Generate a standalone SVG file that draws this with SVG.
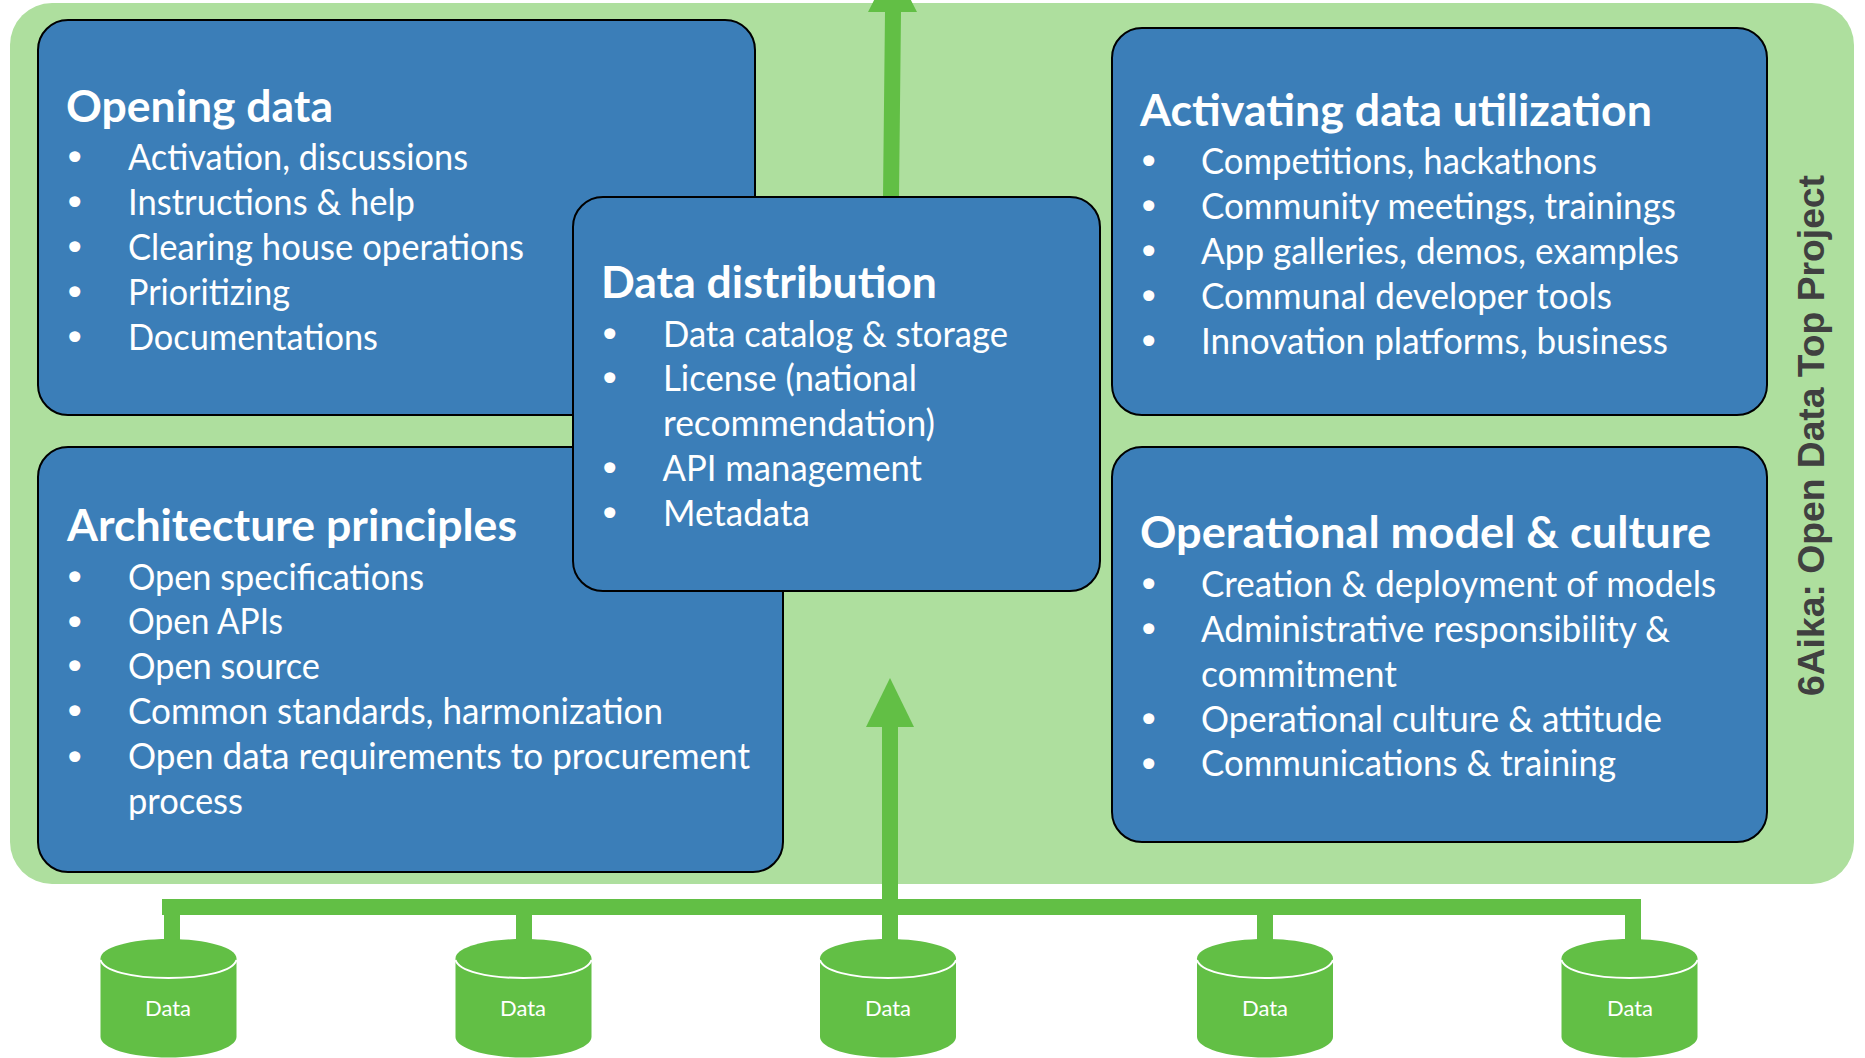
<svg xmlns="http://www.w3.org/2000/svg" width="1865" height="1058" viewBox="0 0 1865 1058">
<style>
text{font-family:"Lato","Carlito","Open Sans",sans-serif;fill:#fff}
.box{fill:#3b7eb8;stroke:#000;stroke-width:2}
.h{font-size:44px;font-weight:700}
.i{font-size:36px}
.b{font-family:"DejaVu Sans",sans-serif;font-size:38px}
.g{fill:#62bf45}
.d{font-size:22px;text-anchor:middle}
.arc{fill:none;stroke:#fff;stroke-width:2}
.side{font-family:"Liberation Sans",Arial,sans-serif;font-weight:700;font-size:36px;fill:#404040}
</style>
<defs>
<g id="cyl"><path class="g" d="M0 19.500V98C0 109 30 118.500 68 118.500S136 109 136 98V19.500C136 8.500 106 0 68 0S0 8.500 0 19.500Z"/><path class="arc" d="M0 21C3 32 32 39 68 39S133 32 136 21"/></g>
</defs>
<rect id="panel" x="10" y="3" width="1844" height="881" rx="42" fill="#aedf9e"/>
<g id="connectors" class="g">
<path d="M883 197L885 12H868L892.500 -36L917 12H901L899 197Z"/>
<rect x="162" y="899" width="1479" height="16"/>
<rect x="164" y="915" width="16" height="30"/>
<rect x="516" y="915" width="16" height="30"/>
<rect x="882" y="727" width="16" height="215"/>
<path d="M866 727L890 678L914 727Z"/>
<rect x="1257" y="915" width="16" height="30"/>
<rect x="1625" y="915" width="16" height="30"/>
</g>
<g id="opening-data">
<rect class="box" x="38" y="20" width="717" height="395" rx="30"/>
<text class="h" x="66" y="122" textLength="267" lengthAdjust="spacingAndGlyphs">Opening data</text>
<text class="b" x="63.600" y="171">•</text><text class="i" x="128" y="170" textLength="340" lengthAdjust="spacingAndGlyphs">Activation, discussions</text>
<text class="b" x="63.600" y="216">•</text><text class="i" x="128" y="214.500" textLength="287" lengthAdjust="spacingAndGlyphs">Instructions &amp; help</text>
<text class="b" x="63.600" y="261">•</text><text class="i" x="128" y="259.500" textLength="396" lengthAdjust="spacingAndGlyphs">Clearing house operations</text>
<text class="b" x="63.600" y="306">•</text><text class="i" x="128" y="304.500" textLength="162" lengthAdjust="spacingAndGlyphs">Prioritizing</text>
<text class="b" x="63.600" y="351">•</text><text class="i" x="128" y="349.500" textLength="250" lengthAdjust="spacingAndGlyphs">Documentations</text>
</g>
<g id="architecture-principles">
<rect class="box" x="38" y="447" width="745" height="425" rx="30"/>
<text class="h" x="67" y="541" textLength="450" lengthAdjust="spacingAndGlyphs">Architecture principles</text>
<text class="b" x="63.600" y="591">•</text><text class="i" x="128" y="589.500" textLength="296" lengthAdjust="spacingAndGlyphs">Open specifications</text>
<text class="b" x="63.600" y="635.500">•</text><text class="i" x="128" y="634" textLength="155" lengthAdjust="spacingAndGlyphs">Open APIs</text>
<text class="b" x="63.600" y="680">•</text><text class="i" x="128" y="678.500" textLength="192" lengthAdjust="spacingAndGlyphs">Open source</text>
<text class="b" x="63.600" y="725">•</text><text class="i" x="128" y="723.500" textLength="535" lengthAdjust="spacingAndGlyphs">Common standards, harmonization</text>
<text class="b" x="63.600" y="770.500">•</text><text class="i" x="128" y="769" textLength="622" lengthAdjust="spacingAndGlyphs">Open data requirements to procurement</text>
<text class="i" x="128" y="814" textLength="115" lengthAdjust="spacingAndGlyphs">process</text>
</g>
<g id="activating-data-utilization">
<rect class="box" x="1112" y="28" width="655" height="387" rx="30"/>
<text class="h" x="1140" y="126" textLength="512" lengthAdjust="spacingAndGlyphs">Activating data utilization</text>
<text class="b" x="1137.600" y="175">•</text><text class="i" x="1201" y="173.500" textLength="396" lengthAdjust="spacingAndGlyphs">Competitions, hackathons</text>
<text class="b" x="1137.600" y="220">•</text><text class="i" x="1201" y="218.500" textLength="475" lengthAdjust="spacingAndGlyphs">Community meetings, trainings</text>
<text class="b" x="1137.600" y="265">•</text><text class="i" x="1201" y="263.500" textLength="478" lengthAdjust="spacingAndGlyphs">App galleries, demos, examples</text>
<text class="b" x="1137.600" y="310">•</text><text class="i" x="1201" y="308.500" textLength="411" lengthAdjust="spacingAndGlyphs">Communal developer tools</text>
<text class="b" x="1137.600" y="355">•</text><text class="i" x="1201" y="353.500" textLength="467" lengthAdjust="spacingAndGlyphs">Innovation platforms, business</text>
</g>
<g id="operational-model-culture">
<rect class="box" x="1112" y="447" width="655" height="395" rx="30"/>
<text class="h" x="1140" y="548" textLength="571" lengthAdjust="spacingAndGlyphs">Operational model &amp; culture</text>
<text class="b" x="1137.600" y="598">•</text><text class="i" x="1201" y="596.500" textLength="515" lengthAdjust="spacingAndGlyphs">Creation &amp; deployment of models</text>
<text class="b" x="1137.600" y="643">•</text><text class="i" x="1201" y="641.500" textLength="469" lengthAdjust="spacingAndGlyphs">Administrative responsibility &amp;</text>
<text class="i" x="1201" y="686.500" textLength="196" lengthAdjust="spacingAndGlyphs">commitment</text>
<text class="b" x="1137.600" y="733">•</text><text class="i" x="1201" y="731.500" textLength="461" lengthAdjust="spacingAndGlyphs">Operational culture &amp; attitude</text>
<text class="b" x="1137.600" y="778">•</text><text class="i" x="1201" y="776" textLength="415" lengthAdjust="spacingAndGlyphs">Communications &amp; training</text>
</g>
<g id="data-distribution">
<rect class="box" x="573" y="197" width="527" height="394" rx="30"/>
<text class="h" x="601" y="298" textLength="336" lengthAdjust="spacingAndGlyphs">Data distribution</text>
<text class="b" x="598.600" y="348">•</text><text class="i" x="663" y="346.500" textLength="345" lengthAdjust="spacingAndGlyphs">Data catalog &amp; storage</text>
<text class="b" x="598.600" y="392">•</text><text class="i" x="663" y="390.500" textLength="254" lengthAdjust="spacingAndGlyphs">License (national</text>
<text class="i" x="663" y="435.500" textLength="272" lengthAdjust="spacingAndGlyphs">recommendation)</text>
<text class="b" x="598.600" y="482">•</text><text class="i" x="662.500" y="480.500" textLength="259.500" lengthAdjust="spacingAndGlyphs">API management</text>
<text class="b" x="598.600" y="527">•</text><text class="i" x="663" y="525.500" textLength="147" lengthAdjust="spacingAndGlyphs">Metadata</text>
</g>
<text id="side-label" class="side" transform="translate(1824 696) rotate(-90)" textLength="521" lengthAdjust="spacingAndGlyphs">6Aika: Open Data Top Project</text>
<g id="data-1"><use href="#cyl" x="100.500" y="939"/><text class="d" x="168" y="1016">Data</text></g>
<g id="data-2"><use href="#cyl" x="455.500" y="939"/><text class="d" x="523" y="1016">Data</text></g>
<g id="data-3"><use href="#cyl" x="820" y="939"/><text class="d" x="888" y="1016">Data</text></g>
<g id="data-4"><use href="#cyl" x="1197" y="939"/><text class="d" x="1265" y="1016">Data</text></g>
<g id="data-5"><use href="#cyl" x="1561.500" y="939"/><text class="d" x="1630" y="1016">Data</text></g>
</svg>
